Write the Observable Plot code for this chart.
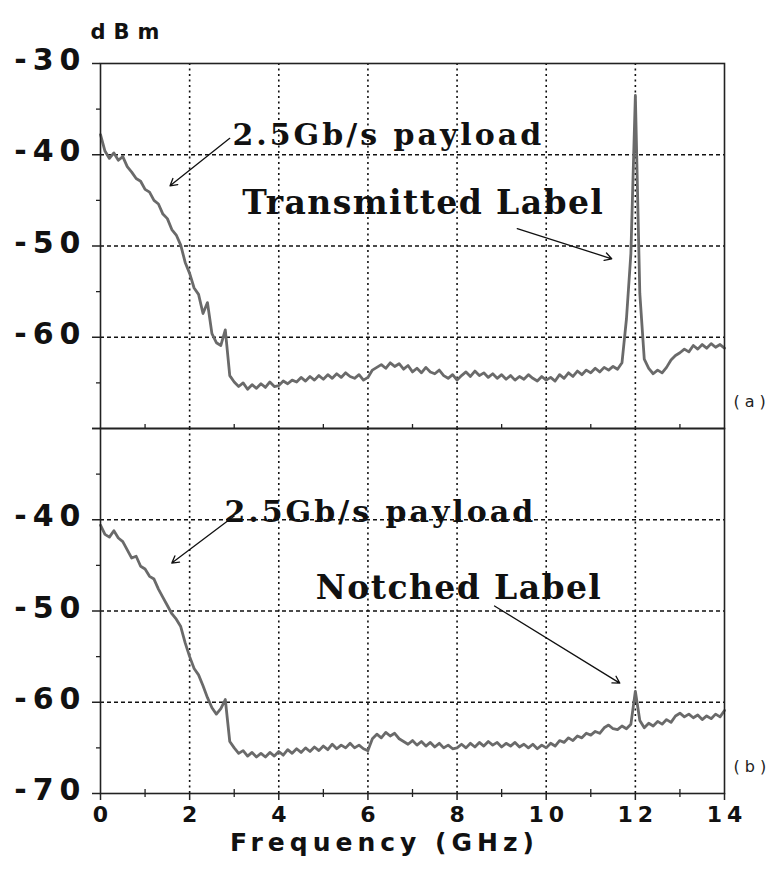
<!DOCTYPE html>
<html>
<head>
<meta charset="utf-8">
<script src="https://cdn.jsdelivr.net/npm/d3@7"></script>
<script src="https://cdn.jsdelivr.net/npm/@observablehq/plot@0.6"></script>
<style>
  body { margin: 0; background: #fff; }
  #chart svg { display: block; }
  g[aria-description="ylab"] text { letter-spacing: 6px; }
  g[aria-description="xlab"] text { letter-spacing: 5px; }
  g[aria-description="xtitle"] text { letter-spacing: 5px; }
  g[aria-description="unit"] text { letter-spacing: 8px; }
  g[aria-description="payload"] text { letter-spacing: 3px; }
  g[aria-description="labelnote"] text { letter-spacing: 1.4px; }
  g[aria-description="panel"] text { letter-spacing: 5px; }
</style>
</head>
<body>
<div id="chart"></div>
<script>
// ---- data ----
const panels = ["a", "b"];
const freqStep = 0.1; // GHz, spectrum analyzer sweep spacing (0 .. 14 GHz)

// (a) transmitted label: power (dBm) at 0.0, 0.1, ... 14.0 GHz
const traceA = [
  -37.8,-39.6,-40.4,-39.8,-40.6,-40.2,-41.3,-41.9,-42.6,-42.9,
  -43.8,-44.1,-45.0,-45.4,-46.5,-47.0,-48.2,-48.8,-49.9,-51.8,
  -53.0,-54.6,-55.3,-57.4,-56.2,-59.6,-60.6,-60.9,-59.2,-64.2,
  -64.9,-65.4,-65.0,-65.7,-65.2,-65.6,-65.1,-65.5,-64.9,-65.4,
  -65.3,-64.8,-65.1,-64.7,-64.9,-64.4,-64.8,-64.3,-64.7,-64.2,
  -64.6,-64.1,-64.5,-64.0,-64.4,-63.9,-64.3,-64.5,-64.1,-64.7,
  -64.4,-63.6,-63.3,-63.0,-63.4,-62.8,-63.2,-62.9,-63.5,-63.1,
  -63.8,-63.4,-63.9,-63.3,-63.8,-64.0,-63.6,-64.2,-64.5,-64.1,
  -64.7,-64.2,-63.8,-64.3,-63.7,-64.2,-63.9,-64.4,-64.0,-64.5,
  -64.1,-64.6,-64.2,-64.7,-64.3,-64.6,-64.1,-64.5,-64.8,-64.3,
  -64.7,-64.4,-64.8,-64.1,-64.5,-63.9,-64.3,-63.7,-64.1,-63.6,
  -63.9,-63.4,-63.8,-63.3,-63.6,-63.2,-63.5,-62.8,-58.0,-50.8,
  -33.5,-55.2,-62.4,-63.4,-64.0,-63.6,-63.9,-63.3,-62.5,-62.0,
  -61.7,-61.3,-61.6,-60.9,-61.3,-60.8,-61.2,-60.7,-61.1,-60.8,
  -61.2
];

// (b) notched label: power (dBm) at 0.0, 0.1, ... 14.0 GHz
const traceB = [
  -40.6,-41.6,-41.9,-41.2,-42.0,-42.4,-43.3,-44.2,-44.0,-45.1,
  -45.4,-46.2,-46.5,-47.6,-48.5,-49.4,-50.3,-50.9,-51.7,-53.5,
  -55.0,-56.3,-57.0,-58.2,-59.5,-60.6,-61.3,-60.7,-59.7,-64.3,
  -65.0,-65.6,-65.3,-65.9,-65.5,-66.0,-65.6,-66.0,-65.5,-65.9,
  -65.4,-65.8,-65.2,-65.6,-65.1,-65.5,-65.0,-65.4,-64.9,-65.3,
  -64.8,-65.2,-64.6,-65.1,-64.7,-65.0,-64.5,-65.0,-64.7,-65.1,
  -65.3,-64.0,-63.5,-63.9,-63.3,-63.7,-63.4,-64.0,-64.3,-64.6,
  -64.2,-64.7,-64.3,-64.8,-64.4,-64.9,-64.5,-65.0,-64.7,-65.1,
  -65.0,-64.6,-65.0,-64.5,-64.9,-64.4,-64.8,-64.3,-64.7,-64.4,
  -64.9,-64.5,-64.8,-64.4,-64.9,-64.6,-65.0,-64.6,-65.1,-64.7,
  -65.0,-64.5,-64.8,-64.2,-64.4,-63.9,-64.2,-63.7,-63.9,-63.4,
  -63.6,-63.2,-63.4,-62.8,-62.5,-62.9,-63.0,-62.6,-62.9,-62.4,
  -58.8,-62.0,-62.8,-62.3,-62.6,-62.1,-62.4,-61.9,-62.2,-61.5,
  -61.2,-61.6,-61.3,-61.7,-61.4,-61.9,-61.5,-61.8,-61.3,-61.6,
  -60.9
];

const xTicks = [0, 2, 4, 6, 8, 10, 12, 14];
const xMinorTicks = [1, 3, 5, 7, 9, 11, 13];
const xGrid = [2, 4, 6, 8, 10, 12];
const yTicks = [-30, -40, -50, -60, -70];
const yMinorTicks = [-35, -45, -55, -65];
const yGrid = [-40, -50, -60];
const yLabelsA = [-30, -40, -50, -60];
const yLabelsB = [-40, -50, -60, -70];
const panelNames = ["(a)", "(b)"];

const payloadNotes = [
  {panel: "a", x: 2.96, y: -38.9, text: "2.5Gb/s payload"},
  {panel: "b", x: 2.78, y: -40.2, text: "2.5Gb/s payload"}
];
const labelNotes = [
  {panel: "a", x: 3.18, y: -46.5, text: "Transmitted Label"},
  {panel: "b", x: 4.83, y: -48.7, text: "Notched Label"}
];
const arrows = [
  {panel: "a", x1: 2.90, y1: -38.2, x2: 1.56, y2: -43.4},
  {panel: "a", x1: 9.35, y1: -48.1, x2: 11.47, y2: -51.4},
  {panel: "b", x1: 3.00, y1: -39.6, x2: 1.60, y2: -44.75},
  {panel: "b", x1: 8.84, y1: -49.45, x2: 11.65, y2: -57.9}
];

// ---- tables built from the arrays ----
const toRows = (values, panel) => values.map((v, i) => ({panel, f: +(i * freqStep).toFixed(2), v}));
const traceRows = toRows(traceA, "a").concat(toRows(traceB, "b"));
const yLabelRows = yLabelsA.map(v => ({panel: "a", v})).concat(yLabelsB.map(v => ({panel: "b", v})));
const xLabelRows = xTicks.map(v => ({panel: "b", v}));
const panelRows = panels.map((p, i) => ({panel: p, text: panelNames[i]}));

const sans = "DejaVu Sans, Arial, sans-serif";
const serif = "DejaVu Serif, Liberation Serif, serif";

const chart = Plot.plot({
  width: 778,
  height: 870,
  marginLeft: 100,
  marginRight: 54,
  marginTop: 62,
  marginBottom: 77,
  style: {background: "#fff", overflow: "visible", fontFamily: sans},
  x: {domain: [0, 14]},
  y: {domain: [-70, -30]},
  fy: {domain: panels, padding: 0, axis: null},
  marks: [
    // grid
    Plot.ruleX(xGrid, {stroke: "#111", strokeWidth: 1.6, strokeDasharray: "2,3.5"}),
    Plot.ruleY(yGrid, {stroke: "#111", strokeWidth: 1.3, strokeDasharray: "4,3"}),
    // spectrum traces
    Plot.line(traceRows, {x: "f", y: "v", fy: "panel", curve: "linear", stroke: "#6a6a6a", strokeWidth: 2.8}),
    // frames
    Plot.frame({stroke: "#222", strokeWidth: 1.6}),
    // axes ticks
    Plot.axisY({ticks: yTicks, tickSize: 8, tickFormat: () => "", label: null, stroke: "#222", strokeWidth: 1.5}),
    Plot.axisY({ticks: yMinorTicks, tickSize: 4, tickFormat: () => "", label: null, stroke: "#222", strokeWidth: 1.3}),
    Plot.axisX({ticks: xTicks, tickSize: 7, tickFormat: () => "", label: null, stroke: "#222", strokeWidth: 1.5}),
    Plot.axisX({ticks: xMinorTicks, tickSize: 4, tickFormat: () => "", label: null, stroke: "#222", strokeWidth: 1.3}),
    Plot.axisX({ticks: xMinorTicks, tickSize: -4, tickFormat: () => "", label: null, facetAnchor: null, stroke: "#222", strokeWidth: 1.3}),
    // tick labels
    Plot.text(yLabelRows, {frameAnchor: "left", y: "v", fy: "panel", text: d => String(d.v),
      dx: -14, dy: -3, textAnchor: "end", fontSize: 30, fontWeight: "bold", fontFamily: sans, fill: "#111",
      ariaDescription: "ylab"}),
    Plot.text(xLabelRows, {x: "v", frameAnchor: "bottom", fy: "panel", text: d => String(d.v),
      dx: 2.5, dy: 28, textAnchor: "middle", fontSize: 22, fontWeight: "bold", fontFamily: sans, fill: "#111",
      ariaDescription: "xlab"}),
    // axis titles
    Plot.text([{panel: "b", t: "Frequency (GHz)"}], {fy: "panel", frameAnchor: "bottom", text: "t",
      dx: -28, dy: 57, fontSize: 25, fontWeight: "bold", fontFamily: sans, fill: "#111", ariaDescription: "xtitle"}),
    Plot.text([{panel: "a", t: "dBm"}], {fy: "panel", frameAnchor: "top-left", text: "t",
      dx: -10, dy: -39, textAnchor: "start", fontSize: 21, fontWeight: "bold", fontFamily: sans, fill: "#111",
      ariaDescription: "unit"}),
    // panel tags
    Plot.text(panelRows, {fy: "panel", frameAnchor: "bottom-right", text: "text",
      dx: 9, dy: -22, textAnchor: "start", fontSize: 16, fontFamily: sans, fill: "#222", ariaDescription: "panel"}),
    // annotations
    Plot.arrow(arrows, {x1: "x1", y1: "y1", x2: "x2", y2: "y2", fy: "panel", stroke: "#111",
      strokeWidth: 1.3, headLength: 9, bend: 0}),
    Plot.text(payloadNotes, {x: "x", y: "y", fy: "panel", text: "text", textAnchor: "start", lineAnchor: "bottom",
      fontSize: 30, fontWeight: "bold", fontFamily: serif, fill: "#111", ariaDescription: "payload"}),
    Plot.text(labelNotes, {x: "x", y: "y", fy: "panel", text: "text", textAnchor: "start", lineAnchor: "bottom",
      fontSize: 33, fontWeight: "bold", fontFamily: serif, fill: "#111", ariaDescription: "labelnote"})
  ]
});
document.getElementById("chart").appendChild(chart);
</script>
</body>
</html>
